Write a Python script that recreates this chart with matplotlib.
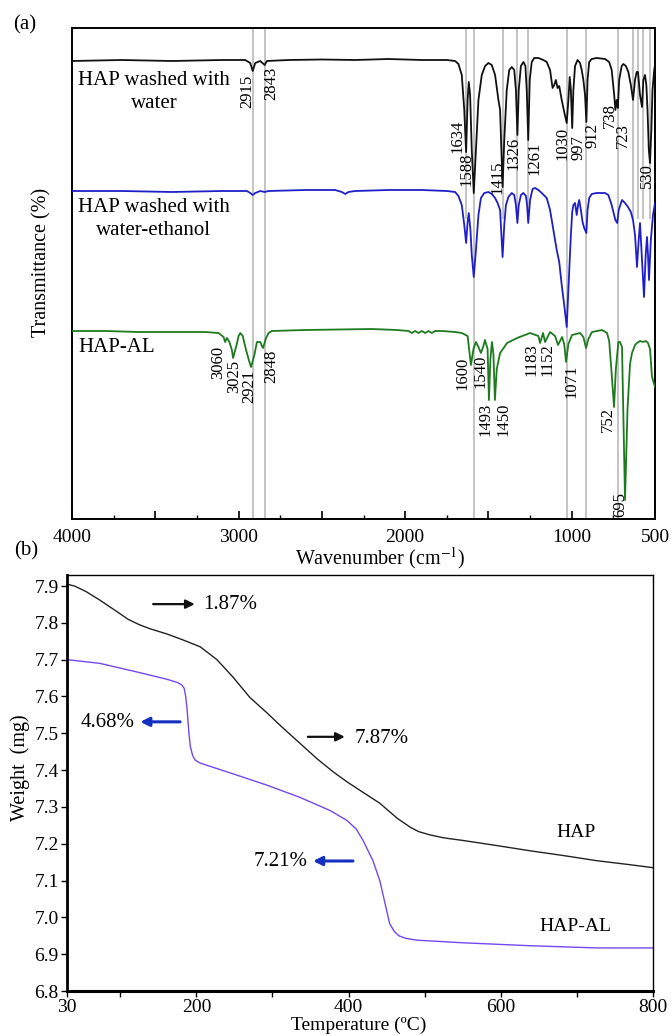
import matplotlib
matplotlib.use("Agg")
import matplotlib.pyplot as plt
from matplotlib.ticker import FixedLocator, FormatStrFormatter

plt.rcParams['font.family'] = ['Liberation Serif', 'DejaVu Serif']
plt.rcParams['mathtext.fontset'] = 'stix'

# ---------------- (a) FTIR data (transmittance, arbitrary units) ----------------
wn_water = [4000, 3700, 3400, 3100, 2960, 2930, 2915, 2900, 2870, 2843, 2830, 2700, 2500, 2300, 2100,
            1900, 1750, 1700, 1680, 1660, 1645, 1634, 1625, 1618, 1610, 1600, 1588, 1575, 1560, 1540,
            1520, 1500, 1480, 1460, 1440, 1430, 1415, 1405, 1390, 1375, 1360, 1345, 1335, 1326, 1318,
            1305, 1290, 1278, 1270, 1261, 1252, 1240, 1225, 1200, 1170, 1150, 1130, 1115, 1105, 1095,
            1085, 1075, 1060, 1045, 1030, 1020, 1012, 1005, 997, 990, 980, 965, 950, 940, 930, 920,
            912, 905, 895, 880, 850, 800, 775, 760, 745, 738, 730, 723, 715, 700, 690, 675, 660, 645,
            632, 620, 610, 602, 590, 578, 570, 560, 552, 545, 537, 530, 522, 515, 505, 500]
tr_water = [458, 459, 458, 459, 459, 456, 448, 456, 458, 454, 458, 459, 459.5, 459, 460,
            459, 459, 458, 455, 444, 409, 367, 419, 437, 424, 369, 326, 369, 419, 444,
            453, 456, 454, 444, 419, 409, 332, 379, 429, 449, 452, 449, 429, 384, 429,
            453, 457, 453, 429, 379, 439, 457, 461, 461, 459, 457, 449, 431, 434, 439,
            431, 433, 419, 407, 396, 419, 442, 429, 391, 429, 453, 459, 456, 449, 439, 424,
            397, 439, 457, 460, 461, 460, 457, 449, 424, 409, 419, 411, 439, 453, 455, 453, 447, 434,
            419, 439, 447, 447, 424, 412, 439, 444, 434, 409, 369, 356, 389, 429, 449, 454]

wn_ethanol = [4000, 3700, 3400, 3100, 2950, 2930, 2915, 2900, 2870, 2843, 2820, 2600, 2420, 2380, 2360,
              2340, 2300, 2100, 1900, 1750, 1700, 1680, 1660, 1645, 1634, 1625, 1618, 1608, 1600, 1588,
              1575, 1560, 1545, 1525, 1500, 1480, 1460, 1445, 1430, 1415, 1405, 1395, 1380, 1360, 1345,
              1335, 1326, 1318, 1305, 1290, 1275, 1268, 1261, 1250, 1235, 1220, 1200, 1180, 1150, 1130,
              1110, 1100, 1090, 1075, 1060, 1045, 1030, 1020, 1012, 1005, 997, 990, 980, 970, 962,
              955, 945, 935, 925, 912, 905, 895, 880, 850, 800, 780, 760, 738, 727, 718,
              698, 680, 662, 645, 632, 620, 608, 598, 590, 578, 566, 556, 548, 542, 536,
              525, 512, 500]
tr_ethanol = [328, 328, 327, 328, 328, 326, 324, 326, 328, 327, 328, 329, 329, 327, 325,
              327, 328, 329, 329, 328, 327, 323, 314, 294, 276, 297, 306, 289, 264, 242,
              269, 304, 321, 326, 327, 325, 321, 316, 309, 262, 294, 314, 322, 326, 324,
              314, 296, 314, 324, 326, 323, 314, 296, 319, 330, 331, 329, 326, 321, 309,
              289, 279, 269, 257, 234, 214, 192, 229, 259, 284, 307, 314, 316, 304, 314,
              319, 309, 297, 291, 286, 309, 321, 325, 326, 326, 324, 314, 299, 296, 309,
              319, 316, 312, 307, 299, 284, 252, 279, 296, 259, 222, 264, 282, 264, 239,
              279, 304, 316]

wn_al = [4000, 3800, 3600, 3400, 3200, 3120, 3090, 3081, 3070, 3055, 3040, 3033, 3012, 3000, 2990,
         2975, 2955, 2935, 2925, 2905, 2890, 2870, 2860, 2853, 2835, 2820, 2800, 2600, 2400, 2200,
         2050, 1980, 1960, 1940, 1920, 1900, 1880, 1860, 1840, 1820, 1780, 1700, 1660, 1625, 1605,
         1590, 1575, 1560, 1545, 1530, 1521, 1505, 1497, 1488, 1479, 1470, 1461, 1450, 1430, 1388,
         1328, 1250, 1200, 1190, 1172, 1160, 1130, 1100, 1082, 1058, 1045, 1034, 1020, 998, 950,
         930, 914, 900, 878, 818, 788, 775, 760, 746, 735, 720, 710, 698, 680, 665,
         650, 638, 620, 608, 590, 572, 555, 542, 530, 518, 500]
tr_al = [188, 188, 187, 187, 187, 186, 182, 177, 181, 177, 169, 161, 174, 183, 186,
         183, 169, 157, 152, 164, 177, 177, 173, 171, 181, 186, 188, 189, 189.5, 190,
         189, 188, 186, 188, 186, 188, 186, 188, 186, 188, 188, 187, 186, 183, 154,
         170, 177, 172, 166, 173, 179, 170, 119, 160, 177, 165, 119, 150, 166, 176,
         181, 186, 183, 176, 186, 177, 187, 183, 174, 182, 175, 157, 175, 184, 186,
         182, 171, 180, 187, 189, 186, 178, 145, 112, 150, 177, 177, 172, 19, 110,
         155, 166, 174, 176, 178, 177, 178, 176, 170, 142, 132]

full_lines = [2915, 2843, 1588, 1030, 912, 723]
short_lines = [1634, 1415, 1326, 1261, 632, 602, 572, 530]

# peak labels: (text, x position in cm-1, top of label in a.u.)
labels_water = [("2915", 2949, 444), ("2843", 2805, 452), ("1634", 1683, 399), ("1588", 1629, 367),
                ("1415", 1448, 359), ("1326", 1352, 382), ("1261", 1226, 377), ("1030", 1058, 392),
                ("997", 962, 384), ("912", 878, 396), ("738", 770, 416), ("723", 692, 396),
                ("530", 548, 356)]
labels_al = [("3060", 3125, 173), ("3025", 3028, 159), ("2921", 2937, 149), ("2848", 2805, 169),
             ("1600", 1653, 162), ("1540", 1545, 164), ("1493", 1515, 116), ("1450", 1412, 116),
             ("1183", 1240, 176), ("1152", 1148, 176), ("1071", 1004, 154), ("752", 782, 112),
             ("695", 710, 27)]

# ---------------- (b) TGA data ----------------
temp_hap = [30, 40, 55, 73, 96, 110, 125, 139, 161, 182, 205, 227, 248, 270, 293, 314, 336, 359,
            380, 398, 415, 441, 464, 481, 492, 507, 525, 550, 595, 638, 682, 726, 770, 800]
wt_hap = [7.905, 7.900, 7.885, 7.862, 7.830, 7.810, 7.795, 7.784, 7.770, 7.754, 7.735, 7.700,
          7.653, 7.598, 7.555, 7.514, 7.473, 7.430, 7.395, 7.368, 7.345, 7.310, 7.269, 7.245,
          7.233, 7.224, 7.216, 7.209, 7.195, 7.181, 7.168, 7.154, 7.143, 7.135]
temp_al = [30, 73, 117, 161, 175, 181, 184, 186, 188, 190, 192, 195, 198, 204, 214, 248, 293,
           336, 376, 398, 410, 419, 432, 441, 448, 454, 460, 466, 475, 490, 550, 638, 726, 800]
wt_al = [7.700, 7.690, 7.669, 7.647, 7.638, 7.631, 7.622, 7.600, 7.560, 7.505, 7.465, 7.440,
         7.428, 7.420, 7.413, 7.390, 7.359, 7.326, 7.290, 7.263, 7.240, 7.209, 7.154, 7.100,
         7.037, 6.983, 6.962, 6.950, 6.943, 6.938, 6.931, 6.923, 6.917, 6.917]

# ---------------- figure ----------------
W, H = 671, 1036
fig = plt.figure(figsize=(W / 100, H / 100), dpi=100)


def rect(l, t, r, b):
    return [l / W, 1 - b / H, (r - l) / W, (b - t) / H]


ax1 = fig.add_axes(rect(72, 28, 655, 519))
ax2 = fig.add_axes(rect(67, 575, 653, 991))

grey = '#b4b4b4'
ax1.vlines(full_lines, 0, 491, colors=grey, lw=1.1, zorder=1)
ax1.vlines(short_lines, 300, 491, colors=grey, lw=1.1, zorder=1)

ax1.plot(wn_water, tr_water, color='#111111', lw=1.3, zorder=3)
ax1.plot(wn_ethanol, tr_ethanol, color='#1f1fc8', lw=1.3, zorder=3)
ax1.plot(wn_al, tr_al, color='#1e7a1e', lw=1.3, zorder=3)

for t, x, y in labels_water + labels_al:
    ax1.text(x, y, t, rotation=90, ha='center', va='top', fontsize=12, zorder=4)

ax1.text(3508, 427, "HAP washed with\nwater", ha='center', va='center', fontsize=15,
         multialignment='center', linespacing=1.25)
ax1.text(3508, 300, "HAP washed with\nwater-ethanol", ha='center', va='center', fontsize=15,
         multialignment='center', linespacing=1.25)
ax1.text(3964, 172, "HAP-AL", ha='left', va='center', fontsize=15)

ax1.set_xlim(4000, 500)
ax1.set_ylim(0, 491)
ax1.set_yticks([])
ax1.set_xticks([4000, 3500, 3000, 2500, 2000, 1500, 1000, 500])
ax1.set_xticklabels(['4000', '', '3000', '', '2000', '', '1000', '500'])
ax1.xaxis.set_minor_locator(FixedLocator([3750, 3250, 2750, 2250, 1750, 1250, 750]))
ax1.tick_params(axis='x', which='major', direction='in', length=6, width=1.2, labelsize=14, pad=7)
ax1.tick_params(axis='x', which='minor', direction='in', length=3, width=1.0)
for s in ax1.spines.values():
    s.set_linewidth(1.4)
ax1.set_xlabel('Wavenumber (cm$^{-1}$)', fontsize=14.5, va='center')
ax1.xaxis.set_label_coords(0.528, -0.079)
ax1.set_ylabel('Transmittance (%)', fontsize=14.5, va='center')
ax1.yaxis.set_label_coords(-0.0515, 0.523)

# ---- (b)
ax2.plot(temp_hap, wt_hap, color='#222222', lw=1.0)
ax2.plot(temp_al, wt_al, color='#7448ee', lw=1.0)
ax2.set_xlim(30, 800)
ax2.set_ylim(6.8, 7.93)
ax2.set_xticks([30, 200, 400, 600, 800])
ax2.xaxis.set_minor_locator(FixedLocator([100, 300, 500, 700]))
ax2.set_yticks([6.8, 6.9, 7.0, 7.1, 7.2, 7.3, 7.4, 7.5, 7.6, 7.7, 7.8, 7.9])
ax2.yaxis.set_major_formatter(FormatStrFormatter('%.1f'))
ax2.tick_params(axis='both', which='major', direction='out', length=4, width=1.0, labelsize=14)
ax2.tick_params(axis='x', which='major', pad=2)
ax2.tick_params(axis='y', which='major', pad=2)
ax2.tick_params(axis='x', which='minor', direction='out', length=4, width=1.0)
ax2.spines['left'].set_linewidth(2.0)
ax2.spines['bottom'].set_linewidth(2.2)
ax2.spines['top'].set_linewidth(1.0)
ax2.spines['right'].set_linewidth(1.0)
ax2.set_xlabel('Temperature (\u00baC)', fontsize=14, va='center')
ax2.xaxis.set_label_coords(0.497, -0.0835)
ax2.set_ylabel('Weight  (mg)', fontsize=14.5, va='center')
ax2.yaxis.set_label_coords(-0.080, 0.538)

blk = '#111111'
blu = '#1530c0'
ak = dict(xycoords='axes fraction', textcoords='axes fraction')
ax2.annotate('', xy=(0.218, 0.930), xytext=(0.147, 0.930),
             arrowprops=dict(arrowstyle='-|>', color=blk, lw=1.6, mutation_scale=13, shrinkA=0, shrinkB=0), **ak)
ax2.text(0.232, 0.929, '1.87%', transform=ax2.transAxes, fontsize=15, ha='left', va='center')
ax2.annotate('', xy=(0.125, 0.647), xytext=(0.193, 0.647),
             arrowprops=dict(arrowstyle='-|>', color=blu, lw=2.2, mutation_scale=13, shrinkA=0, shrinkB=0), **ak)
ax2.text(0.116, 0.646, '4.68%', transform=ax2.transAxes, fontsize=15, ha='right', va='center')
ax2.annotate('', xy=(0.474, 0.611), xytext=(0.411, 0.611),
             arrowprops=dict(arrowstyle='-|>', color=blk, lw=1.6, mutation_scale=13, shrinkA=0, shrinkB=0), **ak)
ax2.text(0.491, 0.607, '7.87%', transform=ax2.transAxes, fontsize=15, ha='left', va='center')
ax2.annotate('', xy=(0.420, 0.3125), xytext=(0.488, 0.3125),
             arrowprops=dict(arrowstyle='-|>', color=blu, lw=2.2, mutation_scale=13, shrinkA=0, shrinkB=0), **ak)
ax2.text(0.410, 0.312, '7.21%', transform=ax2.transAxes, fontsize=15, ha='right', va='center')
ax2.text(0.869, 0.382, 'HAP', transform=ax2.transAxes, fontsize=14, ha='center', va='center')
ax2.text(0.867, 0.154, 'HAP-AL', transform=ax2.transAxes, fontsize=14, ha='center', va='center')

fig.text(25 / W, 1 - 25 / H, '(a)', fontsize=15, ha='center', va='center')
fig.text(26 / W, 1 - 551 / H, '(b)', fontsize=15, ha='center', va='center')

fig.savefig('out.png', dpi=100)
